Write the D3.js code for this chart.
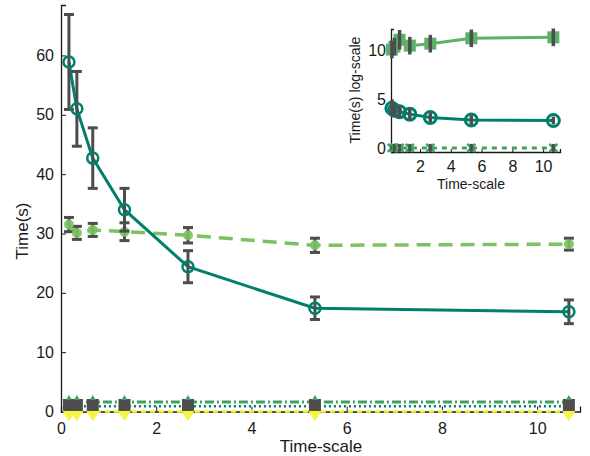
<!DOCTYPE html>
<html><head><meta charset="utf-8">
<script src="https://cdn.jsdelivr.net/npm/d3@7"></script>
<style>body{margin:0;background:#fff}svg{display:block}text{font-family:"Liberation Sans",Arial,sans-serif;fill:#1a1a1a}</style>
</head><body><svg id="c" width="590" height="456"></svg>
<script>
const timeScale = [0.1667, 0.3333, 0.6667, 1.3333, 2.6667, 5.3333, 10.6667];
// main plot series
const seriesA = [58.9, 51.0, 42.7, 34.0, 24.4, 17.4, 16.8];
const errA    = [8.0, 6.3, 5.1, 3.6, 2.7, 1.9, 2.0];
const seriesB = [31.5, 30.1, 30.6, 30.3, 29.7, 28.0, 28.2];
const errB    = [1.2, 1.1, 1.1, 1.5, 1.3, 1.2, 1.0];
const seriesSq = [1.1, 1.1, 1.1, 1.1, 1.1, 1.1, 1.1];
const seriesDashDot = [1.6, 1.6, 1.6, 1.6, 1.6, 1.6, 1.6];
const seriesDot = [0.9, 0.9, 0.9, 0.9, 0.9, 0.9, 0.9];
const seriesY = [0.05, 0.05, 0.05, 0.05, 0.05, 0.05, 0.05];
const mainYTicks = [0, 10, 20, 30, 40, 50, 60];
const mainXTicks = [0, 2, 4, 6, 8, 10];
// inset (log-scale) series
const insetC = [10.1, 10.4, 11.1, 10.5, 10.7, 11.25, 11.35];
const errC   = [0.9, 0.9, 1.0, 0.9, 0.9, 0.9, 0.9];
const insetD = [4.1, 3.9, 3.75, 3.5, 3.15, 2.9, 2.85];
const errD   = [0.8, 0.7, 0.6, 0.6, 0.5, 0.5, 0.4];
const insetE = [0.05, 0.05, 0.05, 0.05, 0.05, 0.05, 0.05];
const insetYTicks = [0, 5, 10];
const insetXTicks = [2, 4, 6, 8, 10];

const svg = d3.select("#c");
const cDark = "#00806a", cLight = "#7cc262", cMid = "#3fa060", cIn = "#5cb268", cErr = "#4d4d4d", cYel = "#f5f542";
const FONT = '"Liberation Sans",Arial,sans-serif';

// ---------- main axes ----------
const x = d3.scaleLinear().domain([0, 10.9]).range([61, 580]);
const y = d3.scaleLinear().domain([0, 68.5]).range([411.5, 5]);
const g = svg.append("g");

function drawAxes(g, x, y, xt, yt, fs, tickLen, xPad, yPad) {
  const xa = d3.axisBottom(x).tickValues(xt).tickSize(-tickLen).tickPadding(xPad).tickFormat(d3.format("d"));
  const ya = d3.axisLeft(y).tickValues(yt).tickSize(-tickLen).tickPadding(yPad).tickFormat(d3.format("d"));
  const gx = g.append("g").attr("transform", `translate(0,${y.range()[0]})`).call(xa);
  const gy = g.append("g").attr("transform", `translate(${x.range()[0]},0)`).call(ya);
  [gx, gy].forEach(a => {
    a.select(".domain").attr("stroke", "#1a1a1a").attr("stroke-width", 1.3);
    a.selectAll(".tick line").attr("stroke", "#1a1a1a");
    a.selectAll("text").attr("font-size", fs).attr("fill", "#1a1a1a").style("font-family", FONT);
  });
}
drawAxes(g, x, y, mainXTicks, mainYTicks, 16, 5, 11, 7);

function errBars(g, xs, vals, errs, x, y, capW, w) {
  xs.forEach((xv, i) => {
    const cx = x(xv), y0 = y(vals[i] - errs[i]), y1 = y(vals[i] + errs[i]);
    g.append("line").attr("x1", cx).attr("x2", cx).attr("y1", y0).attr("y2", y1).attr("stroke", cErr).attr("stroke-width", w);
    if (capW > 0) {
      [y0, y1].forEach(yy => g.append("line").attr("x1", cx - capW/2).attr("x2", cx + capW/2).attr("y1", yy).attr("y2", yy).attr("stroke", cErr).attr("stroke-width", w));
    }
  });
}
const line = (x, y) => d3.line().x((d, i) => x(timeScale[i])).y(d => y(d));

// near-zero series
g.append("path").datum(seriesY).attr("d", line(x, y)).attr("fill", "none").attr("stroke", cYel).attr("stroke-width", 3).attr("stroke-dasharray", "5,4");
timeScale.forEach((t, i) => {
  const cx = x(t), cy = y(seriesY[i]);
  g.append("path").attr("d", `M${cx-7},${cy-1}L${cx+7},${cy-1}L${cx},${cy+10}Z`).attr("fill", cYel);
});
g.append("path").datum(seriesDot).attr("d", line(x, y)).attr("fill", "none").attr("stroke", cDark).attr("stroke-width", 2.5).attr("stroke-dasharray", "2,3");
g.append("path").datum(seriesDashDot).attr("d", line(x, y)).attr("fill", "none").attr("stroke", cMid).attr("stroke-width", 3).attr("stroke-dasharray", "9,3,2,3");
timeScale.forEach((t, i) => {
  const cx = x(t), cy = y(seriesSq[i]);
  g.append("rect").attr("x", cx - 6).attr("y", cy - 6).attr("width", 12).attr("height", 12).attr("fill", cErr);
  g.append("path").attr("d", `M${cx-3},${y(seriesDashDot[i])-2}L${cx+3},${y(seriesDashDot[i])-2}L${cx},${y(seriesDashDot[i])-7}Z`).attr("fill", cMid);
});

// series B (dashed light green)
g.append("path").datum(seriesB).attr("d", line(x, y)).attr("fill", "none").attr("stroke", cLight).attr("stroke-width", 3.5).attr("stroke-dasharray", "14,8");
errBars(g, timeScale, seriesB, errB, x, y, 10, 3);
g.selectAll(".mb").data(seriesB).enter().append("circle").attr("cx", (d, i) => x(timeScale[i])).attr("cy", d => y(d)).attr("r", 5).attr("fill", cLight).attr("opacity", 0.9);

// series A (solid dark teal)
g.append("path").datum(seriesA).attr("d", line(x, y)).attr("fill", "none").attr("stroke", cDark).attr("stroke-width", 3);
errBars(g, timeScale, seriesA, errA, x, y, 10, 3);
g.selectAll(".ma").data(seriesA).enter().append("circle").attr("cx", (d, i) => x(timeScale[i])).attr("cy", d => y(d)).attr("r", 5.5).attr("fill", "none").attr("stroke", cDark).attr("stroke-width", 2.5);

g.append("text").attr("x", 321).attr("y", 452).attr("text-anchor", "middle").attr("font-size", 17).text("Time-scale");
g.append("text").attr("transform", "translate(28,231) rotate(-90)").attr("text-anchor", "middle").attr("font-size", 17).text("Time(s)");

// ---------- inset ----------
const xi = d3.scaleLinear().domain([0.11, 11.1]).range([391, 560]);
const yi = d3.scaleLinear().domain([-0.37, 12.2]).range([152, 29]);
const gi = svg.append("g");
drawAxes(gi, xi, yi, insetXTicks, insetYTicks, 16, 3, 9, 5);

gi.append("path").datum(insetE).attr("d", line(xi, yi)).attr("fill", "none").attr("stroke", cMid).attr("stroke-width", 3).attr("stroke-dasharray", "5,5");
timeScale.forEach((t, i) => {
  const cx = xi(t), cy = yi(insetE[i]);
  gi.append("path").attr("d", `M${cx-4},${cy-4}L${cx+4},${cy+4}M${cx-4},${cy+4}L${cx+4},${cy-4}`).attr("stroke", cMid).attr("stroke-width", 2.5);
  gi.append("line").attr("x1", cx).attr("x2", cx).attr("y1", cy - 4).attr("y2", cy + 4).attr("stroke", cErr).attr("stroke-width", 3);
});

gi.append("path").datum(insetD).attr("d", line(xi, yi)).attr("fill", "none").attr("stroke", cDark).attr("stroke-width", 3);
gi.selectAll(".id").data(insetD).enter().append("circle").attr("cx", (d, i) => xi(timeScale[i])).attr("cy", d => yi(d)).attr("r", 6).attr("fill", "none").attr("stroke", cDark).attr("stroke-width", 3);
errBars(gi, timeScale, insetD, errD, xi, yi, 0, 3.5);

gi.append("path").datum(insetC).attr("d", line(xi, yi)).attr("fill", "none").attr("stroke", cIn).attr("stroke-width", 3);
gi.selectAll(".ic").data(insetC).enter().append("rect").attr("x", (d, i) => xi(timeScale[i]) - 6).attr("y", d => yi(d) - 6).attr("width", 12).attr("height", 12).attr("fill", cIn);
errBars(gi, timeScale, insetC, errC, xi, yi, 0, 3.5);

gi.append("text").attr("x", 471).attr("y", 189).attr("text-anchor", "middle").attr("font-size", 14).text("Time-scale");
gi.append("text").attr("transform", "translate(360,90) rotate(-90)").attr("text-anchor", "middle").attr("font-size", 14).text("Time(s) log-scale");
</script></body></html>
